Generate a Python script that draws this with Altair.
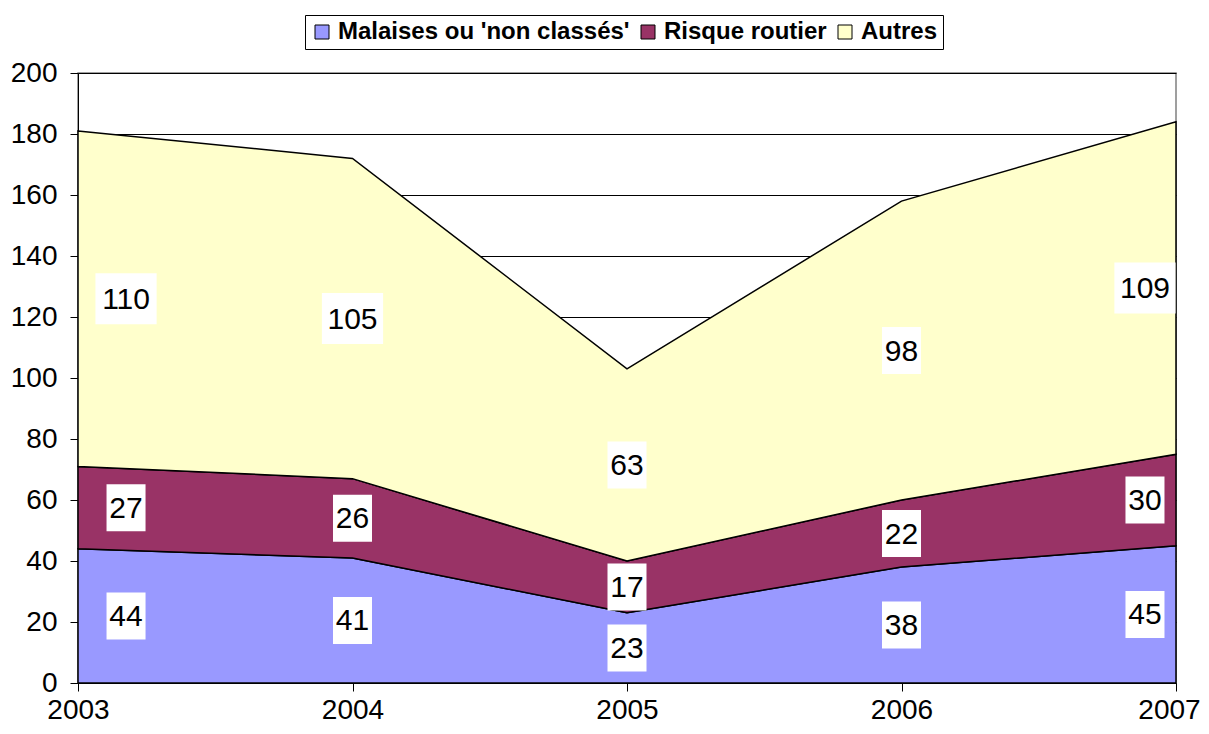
import altair as alt
import pandas as pd

# ---- data ----
years = [2003, 2004, 2005, 2006, 2007]
series = ["Malaises ou 'non classés'", "Risque routier", "Autres"]
malaises = [44, 41, 23, 38, 45]
risque = [27, 26, 17, 22, 30]
autres = [110, 105, 63, 98, 109]
colors = ["#9999FF", "#993366", "#FFFFCC"]

values = [malaises, risque, autres]

# long table for the stacked areas
rows = []
for si, (name, vals) in enumerate(zip(series, values)):
    for y, v in zip(years, vals):
        rows.append({"year": y, "series": name, "value": v, "order": si})
df = pd.DataFrame(rows)

# label table: label sits at the middle of its band; edge labels nudged inward
edge_shift = {2003: 0.175, 2007: -0.113}
lab = []
for i, y in enumerate(years):
    base = 0
    for si, vals in enumerate(values):
        v = vals[i]
        lab.append({
            "lx": y + edge_shift.get(y, 0.0),
            "ly": base + v / 2.0,
            "txt": str(v),
            "wide": len(str(v)) > 2,
        })
        base += v
ldf = pd.DataFrame(lab)

FONT = "Liberation Sans"

xenc = alt.X("year:Q", scale=alt.Scale(domain=[2003, 2007], nice=False),
             axis=alt.Axis(values=years, format="d", title=None, grid=False,
                           labelFontSize=28, labelFont=FONT, labelColor="black",
                           tickSize=8, tickColor="black", domainColor="black",
                           labelPadding=5, labelFlush=False,
                           labelOffset=alt.ExprRef("datum.value == 2007 ? -7 : 0")))
yenc = alt.Y("value:Q", stack="zero", scale=alt.Scale(domain=[0, 200], nice=False),
             axis=alt.Axis(values=list(range(0, 201, 20)), title=None, grid=True,
                           gridColor="#000000", gridWidth=1,
                           labelFontSize=28, labelFont=FONT, labelColor="black",
                           tickSize=8, tickColor="black", domainColor="black",
                           labelPadding=13))

areas = alt.Chart(df).mark_area(stroke="black", strokeWidth=1.5, opacity=1).encode(
    x=xenc,
    y=yenc,
    color=alt.Color("series:N", scale=alt.Scale(domain=series, range=colors),
                    legend=alt.Legend(
                        title=None, orient="none", legendX=227, legendY=-58,
                        direction="horizontal", strokeColor="black", fillColor="white",
                        padding=5, symbolType="square", symbolSize=196,
                        symbolStrokeColor="black", symbolStrokeWidth=1,
                        labelFont=FONT, labelFontSize=24, labelFontWeight="bold",
                        labelColor="black", labelOffset=4, columnPadding=6,
                        labelLimit=400)),
    order=alt.Order("order:Q"),
)

def box_path(half_w):
    return f"M{-half_w},-1H{half_w}V1H{-half_w}Z"

lx = alt.X("lx:Q")
ly = alt.Y("ly:Q")

box2 = alt.Chart(ldf).transform_filter("!datum.wide").mark_point(
    shape=box_path(0.83), size=47 * 47, filled=True, fill="white", opacity=1,
    strokeWidth=0).encode(x=lx, y=ly)
box3 = alt.Chart(ldf).transform_filter("datum.wide").mark_point(
    shape=box_path(1.2), size=51 * 51, filled=True, fill="white", opacity=1,
    strokeWidth=0).encode(x=lx, y=ly)
texts = alt.Chart(ldf).mark_text(font=FONT, fontSize=30, color="black",
                                 align="center", baseline="middle", dy=1).encode(
    x=lx, y=ly, text="txt:N")

chart = alt.layer(areas, box2, box3, texts).properties(
    width=1098, height=610,
    autosize=alt.AutoSizeParams(type="none"),
    padding={"left": 70, "top": 65, "right": 25, "bottom": 42},
).configure_view(stroke="#808080", strokeWidth=1.5)

chart.save("out.html", embed_options={"renderer": "svg", "actions": False})
